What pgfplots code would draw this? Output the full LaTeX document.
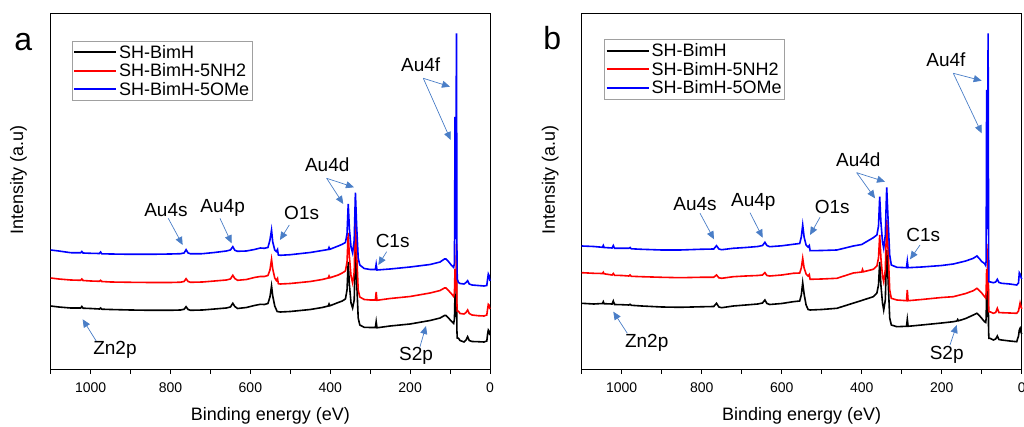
\documentclass[border=0pt]{standalone}
\usepackage{fontspec}
\setmainfont{Liberation Sans}
\usepackage{pgfplots}
\pgfplotsset{compat=1.18}
\usetikzlibrary{arrows.meta}
\definecolor{annot}{HTML}{4A7EC7}
\definecolor{legframe}{HTML}{A0A0A0}
\tikzset{
 ann/.style={annot, line width=0.7pt, -{Triangle[length=8pt,width=7pt]}},
 lab/.style={font=\fontsize{19}{19}\selectfont, inner sep=0pt},
}
\pgfplotsset{
 legend image code/.code={\draw[#1, line width=2pt] (0pt,0pt) -- (42pt,0pt);},
 xpsstyle/.style={
  scale only axis, height=355.7pt,
  x dir=reverse, xmin=0, xmax=1100, ymin=0, ymax=355.7,
  ytick=\empty,
  xtick={0,200,400,600,800,1000},
  xticklabels={0,200,400,600,800,1000},
  minor xtick={100,300,500,700,900,1100},
  xtick pos=bottom, tick align=outside,
  major tick length=5pt, minor tick length=5pt,
  every tick/.style={black, line width=0.9pt},
  axis line style={line width=0.9pt},
  xticklabel shift=5pt,
  xticklabel style={font=\fontsize{14}{14}\selectfont},
  label style={font=\fontsize{18}{18}\selectfont},
  xlabel={Binding energy (eV)},
  ylabel={Intensity (a.u)},
  xlabel style={at={(axis description cs:0.5,-0.1325)}, anchor=center},
  clip=false,
  legend cell align=left,
  legend style={draw=legframe, line width=0.8pt, inner xsep=1pt, inner ysep=2pt,
    font=\fontsize{18}{18}\selectfont, anchor=north west},
  every axis plot/.append style={line width=1.6pt},
 },
}
\begin{document}
\begin{tikzpicture}
\useasboundingbox (0,0) rectangle (1024pt,427pt);
% ---------------- panel a ----------------
\begin{axis}[xpsstyle, width=439.3pt, at={(50.7pt,58pt)}, anchor=south west,
  legend style={at={(0.0478,0.923)}},
  ylabel style={at={(axis description cs:-0.0731,0.531)}, anchor=center}]
\addplot[black] coordinates {(1100,63) (1080,62) (1050,61) (1025,61) (1022,62.5) (1019,60.8) (1000,60.5) (978,60) (975,61) (972,59.8) (950,59.5) (900,59) (850,58.7) (800,58.7) (775,59) (766,59.7) (761,62.3) (756,59.5) (750,58.7) (720,59) (690,60) (660,61) (650,62) (644,65.7) (639,62.5) (632,60.5) (610,61.5) (590,63.5) (575,64.7) (565,64.5) (556,65.5) (551,72) (547,83) (544,73) (539,63) (533,57.5) (525,57) (500,57.5) (450,59.5) (420,61.5) (405,63) (403,65) (401,63.2) (380,66.5) (370,68) (362,70) (358,79) (355,107) (352,84) (348,66) (344,61) (340,69) (337,119) (334,89) (330,51) (326,44) (315,41.7) (300,41.5) (287,41.5) (285,47.3) (283,41.2) (250,43) (200,45) (150,48.5) (125,51) (114,53.5) (110,53.5) (104,51) (96,47.5) (91,45.5) (89,50) (88.2,65) (87.7,75) (87.2,62) (86.3,52) (85.3,58) (84.5,80) (84,95) (83.5,70) (82.8,38) (82,31) (79,30.7) (75,28.5) (65,27) (60,29) (56,32.3) (52,28.5) (45,27.5) (30,27.3) (15,27) (8,28) (6,35) (4.2,39) (2.5,38) (1,35) (0,34)};
\addlegendentry{SH-BimH}
\addplot[red] coordinates {(1100,91) (1080,90) (1050,89) (1025,88.7) (1022,90) (1019,88.5) (1000,88) (978,87.7) (975,88.7) (972,87.5) (950,87) (900,86.7) (850,86.5) (800,86.5) (775,86.8) (766,87.5) (761,90.3) (756,87.5) (750,86.7) (720,87) (690,88) (660,89) (650,90) (644,93.7) (639,90.5) (632,88.7) (610,89.5) (590,91.5) (575,92.5) (565,92.5) (556,93.5) (551,99) (547,109.7) (544,100) (539,91) (535,88.5) (532,90.5) (530,85.3) (525,85) (500,85.5) (450,87.5) (420,89.5) (405,91) (403,93) (401,91.2) (380,94) (370,96) (362,98) (358,107) (355,136) (352,112) (348,93) (344,86) (340,97) (337,147) (334,117) (330,79) (326,72) (315,69.5) (300,69) (287,69) (285,77) (283,68.7) (250,70.5) (200,72.5) (150,76) (125,78.5) (114,81) (110,81) (104,78.5) (96,75) (91,72.5) (89,76) (88.2,90) (87.7,100) (87.2,88) (86.3,78) (85.3,85) (84.5,110) (84,125) (83.5,95) (82.8,65) (82,58) (79,57.7) (75,55.5) (65,55) (60,56.5) (56,59) (52,55.5) (45,54) (30,53.3) (15,53) (8,54) (6,60) (4.2,64.7) (2.5,64) (1,61) (0,60)};
\addlegendentry{SH-BimH-5NH2}
\addplot[blue] coordinates {(1100,119) (1080,118) (1050,116.3) (1025,116.2) (1022,117.5) (1019,116) (1000,115.7) (978,115.5) (975,117) (972,115.2) (950,115) (900,114.7) (850,114.7) (800,115) (775,115.3) (766,116) (761,119.3) (756,116) (750,115.2) (720,115.3) (690,116.5) (660,118) (650,119) (644,122.3) (639,118.7) (632,117.7) (610,118) (590,119.5) (575,121) (565,120.7) (556,121.5) (551,129) (547,139) (544,127) (539,119) (535,117.5) (532,119.5) (530,114) (525,113.7) (500,114.3) (450,116.5) (420,118.5) (405,119.5) (403,121.5) (401,119.7) (380,123) (370,124.7) (362,126.5) (358,135) (355,165) (352,140) (348,122) (344,116) (340,129) (337,176.3) (334,144) (330,111) (326,104) (315,100.5) (300,99.5) (287,99.5) (285,104.7) (283,99) (250,100) (200,102) (150,104.5) (125,107) (114,110) (110,110) (104,107.5) (96,103.5) (91,101.5) (89,106) (88.2,180) (87.7,252) (87.2,170) (86.3,130) (85.3,150) (84.5,280) (84,335.7) (83.5,260) (82.8,120) (82,90) (79,86.5) (75,85.5) (65,85) (60,86.5) (56,88.3) (52,85) (45,84) (30,83.5) (15,83) (8,83.5) (6,90) (4.2,95) (2.5,93.5) (1,90) (0,88)};
\addlegendentry{SH-BimH-5OMe}
% annotations
\draw[ann] (axis cs:167,290.7) -- (axis cs:100.2,282.3);
\draw[ann] (axis cs:167,290.7) -- (axis cs:98.4,229);
\node[lab] at (axis cs:173.6,304) {Au4f};
\draw[ann] (axis cs:409,190.7) -- (axis cs:367.4,165);
\draw[ann] (axis cs:409,190.7) -- (axis cs:340.6,181.7);
\node[lab] at (axis cs:407.5,204) {Au4d};
\draw[ann] (axis cs:805.7,150.7) -- (axis cs:769.6,124);
\node[lab] at (axis cs:811.4,159) {Au4s};
\draw[ann] (axis cs:676.2,150.7) -- (axis cs:646.9,125.7);
\node[lab] at (axis cs:669.4,160.7) {Au4p};
\draw[ann] (axis cs:502.6,144) -- (axis cs:525.9,129);
\node[lab] at (axis cs:471.6,155.7) {O1s};
\draw[ann] (axis cs:258.7,117.3) -- (axis cs:279.7,104);
\node[lab] at (axis cs:243.7,128.3) {C1s};
\draw[ann] (axis cs:985,27.3) -- (axis cs:1020,49.7);
\node[lab] at (axis cs:939.1,19) {Zn2p};
\draw[ann] (axis cs:175.3,22.3) -- (axis cs:160.3,43);
\node[lab] at (axis cs:185.3,13) {S2p};
\node[font=\fontsize{32}{32}\selectfont, inner sep=0pt] at (axis description cs:-0.0624,0.920) {a};
\end{axis}
% ---------------- panel b ----------------
\begin{axis}[xpsstyle, width=440pt, at={(581.7pt,58pt)}, anchor=south west,
  legend style={at={(0.051,0.927)}},
  ylabel style={at={(axis description cs:-0.0714,0.531)}, anchor=center}]
\addplot[black] coordinates {(1100,65.7) (1070,65) (1048,65.5) (1046,67.3) (1044,65.3) (1024,65) (1021,68) (1018,64.5) (1000,64.3) (982,64) (979,64.7) (976,63.7) (950,63) (900,62) (854,61.7) (804,62.2) (770,62.5) (763,65.7) (757,62) (750,61.3) (721,63) (690,64) (660,65) (648,66) (642,69) (637,65.5) (630,64.5) (600,65.5) (571,67.3) (555,68) (551,74) (547.5,86.3) (544,75) (539,64) (534,59.5) (529,59) (500,59.5) (462,60.7) (420,66) (404,68) (371,72.3) (362,76) (358,84) (355,107) (352,84) (348,66) (345,59) (341,69) (337.5,119) (334,89) (330,51) (326,44) (312,42.3) (288,42.7) (286,49.7) (284,42.7) (250,44) (200,46) (171,47.3) (162,48) (160,49.5) (158,48.2) (140,50.5) (121,54) (112,55.7) (106,53.5) (100,50.7) (93,47.3) (90,46.5) (89,50) (88.2,65) (87.7,75) (87.2,62) (86.3,52) (85.3,58) (84.5,80) (84,95) (83.5,70) (82.8,38) (82,30.7) (78,30.5) (71,29) (65,30) (61,33) (57,29.5) (50,29) (30,28) (12.5,27.3) (8,33) (6,39) (4,40.7) (2,37) (0,35)};
\addlegendentry{SH-BimH}
\addplot[red] coordinates {(1100,96.3) (1070,95.7) (1048,95.5) (1046,96.7) (1044,95.2) (1024,94) (1021,95.5) (1018,93.7) (1000,93.5) (982,93) (979,94) (976,92.7) (950,92.3) (900,91.7) (854,91.3) (804,91.7) (770,91.7) (763,94) (757,91.2) (750,90.7) (721,92.3) (690,93) (660,93.5) (648,94) (642,96.3) (637,93.5) (630,93) (600,94) (571,95.7) (555,96) (551,101) (547.5,110.7) (544,101) (539,95) (534,93) (531,94.5) (529,89.7) (500,90) (462,90.7) (421,96) (400,97) (398,99.5) (396,97.2) (371,99.7) (362,103) (358,111) (355,134) (352,111) (348,93) (345,87.3) (341,99) (337.5,149) (334,119) (330,79) (326,70.7) (312,69) (288,68.3) (286,79) (284,68.3) (250,69.5) (200,71.5) (171,72.3) (140,75.5) (121,78.3) (112,80.7) (106,78.5) (100,76) (93,72.5) (90,71) (89,76) (88.2,90) (87.7,100) (87.2,88) (86.3,78) (85.3,85) (84.5,110) (84,125) (83.5,95) (82.8,65) (82,57.3) (78,57) (71,55.7) (65,56.5) (61,60.7) (57,56.5) (50,56.3) (30,56) (12.5,55.7) (8,58) (6,62) (4,66) (2,63) (0,60)};
\addlegendentry{SH-BimH-5NH2}
\addplot[blue] coordinates {(1100,123) (1070,122.5) (1048,121.7) (1046,123.5) (1044,121.5) (1024,121) (1021,123.5) (1018,120.7) (1000,120.7) (982,120.7) (979,121.5) (976,120.2) (950,119.7) (900,119) (854,119) (804,119.7) (770,120) (763,123.3) (757,120) (750,119.3) (721,120.7) (690,121.5) (660,122.5) (648,123.5) (642,126.7) (637,123.5) (630,122.3) (600,123.2) (571,124.7) (555,125.5) (551,132) (547.5,144) (544,132) (539,124) (534,122) (531,123.5) (529,118.3) (500,118.5) (462,119) (421,123) (400,124.5) (371,131.3) (362,134) (358,143) (355,172.3) (352,147) (348,127) (345,120.7) (341,134) (337.5,181.7) (334,149) (330,114) (326,104) (312,101.7) (288,101.3) (286,108) (284,101.3) (250,102) (200,103.5) (171,105) (140,108) (121,110.7) (112,113) (106,110.5) (100,107.5) (93,105.5) (90,103.5) (89,108) (88.2,200) (87.7,279) (87.2,190) (86.3,140) (85.3,150) (84.5,280) (84,335.7) (83.5,260) (82.8,120) (82,87.3) (78,87) (71,86.3) (65,87) (61,89.7) (57,86.5) (50,85.7) (30,85) (12.5,84) (8,86) (6,96.3) (4,95) (2,92) (0,90)};
\addlegendentry{SH-BimH-5OMe}
% annotations
\draw[ann] (axis cs:171,295.7) -- (axis cs:100,288.3);
\draw[ann] (axis cs:171,295.7) -- (axis cs:100,235.7);
\node[lab] at (axis cs:189.3,309) {Au4f};
\draw[ann] (axis cs:412.5,196.3) -- (axis cs:366.7,170.7);
\draw[ann] (axis cs:412.5,196.3) -- (axis cs:341.7,187.3);
\node[lab] at (axis cs:408.5,209.7) {Au4d};
\draw[ann] (axis cs:804.2,155.7) -- (axis cs:769.2,129.7);
\node[lab] at (axis cs:816.7,165) {Au4s};
\draw[ann] (axis cs:679.2,156.3) -- (axis cs:647.5,131.3);
\node[lab] at (axis cs:671,167.3) {Au4p};
\draw[ann] (axis cs:504.2,151.7) -- (axis cs:529.2,134);
\node[lab] at (axis cs:473.5,161.7) {O1s};
\draw[ann] (axis cs:254.2,124) -- (axis cs:279.2,109.7);
\node[lab] at (axis cs:246,134) {C1s};
\draw[ann] (axis cs:986,35.7) -- (axis cs:1021,57.3);
\node[lab] at (axis cs:937.5,25.7) {Zn2p};
\draw[ann] (axis cs:179.2,24) -- (axis cs:162.5,44);
\node[lab] at (axis cs:187.5,14) {S2p};
\node[font=\fontsize{32}{32}\selectfont, inner sep=0pt] at (axis description cs:-0.067,0.9297) {b};
\end{axis}
\end{tikzpicture}
\end{document}
